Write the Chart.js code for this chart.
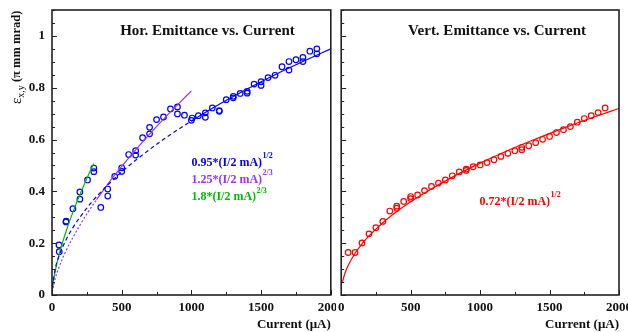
<!DOCTYPE html>
<html>
<head>
<meta charset="utf-8">
<script src="https://cdn.jsdelivr.net/npm/chart.js@4.4.1/dist/chart.umd.min.js"></script>
<style>
body{margin:0;background:#fff;}
#wrap{position:relative;width:628px;height:332px;}
canvas{position:absolute;top:0;}
#hor{left:0;}
#vert{left:336px;}
</style>
</head>
<body>
<div id="wrap">
<canvas id="hor" width="336" height="332"></canvas>
<canvas id="vert" width="292" height="332"></canvas>
</div>
<script>
// measured points (current in uA, emittance in pi mm mrad)
var horCurrent = [50, 52, 100, 102, 150, 200, 200, 255, 300, 300, 350, 400, 400, 450, 500, 500, 550, 600, 600, 650, 700, 700,
	750, 800, 850, 900, 900, 950, 1000, 1005, 1050, 1100, 1100, 1150, 1200, 1200, 1250, 1300, 1300, 1350, 1400, 1400,
	1450, 1500, 1500, 1550, 1600, 1650, 1700, 1700, 1750, 1800, 1800, 1850, 1900, 1900];
var horEmit = [0.193, 0.167, 0.282, 0.285, 0.333, 0.398, 0.370, 0.444, 0.490, 0.476, 0.338, 0.409, 0.382, 0.458, 0.491, 0.477, 0.542, 0.557, 0.540, 0.607, 0.622, 0.647,
	0.677, 0.687, 0.718, 0.726, 0.699, 0.694, 0.674, 0.683, 0.692, 0.686, 0.703, 0.722, 0.709, 0.712, 0.754, 0.761, 0.767, 0.778, 0.786, 0.779,
	0.814, 0.823, 0.809, 0.839, 0.848, 0.881, 0.901, 0.868, 0.908, 0.917, 0.901, 0.941, 0.950, 0.931];

var vertCurrent = [50, 100, 150, 200, 250, 300, 350, 400, 400, 450, 500, 500, 550, 600, 650, 700, 750, 800, 850, 900, 900, 950, 1000,
	1050, 1100, 1150, 1200, 1250, 1300, 1300, 1350, 1400, 1450, 1500, 1550, 1600, 1650, 1700, 1750, 1800, 1850, 1900];
var vertEmit = [0.164, 0.164, 0.201, 0.236, 0.260, 0.284, 0.324, 0.343, 0.335, 0.361, 0.380, 0.372, 0.386, 0.403, 0.419, 0.432, 0.444, 0.460, 0.475, 0.481, 0.486, 0.495, 0.502,
	0.511, 0.522, 0.535, 0.547, 0.557, 0.561, 0.570, 0.576, 0.588, 0.601, 0.612, 0.627, 0.638, 0.650, 0.667, 0.681, 0.692, 0.704, 0.722];

// fit curves
var blueDashX = [2, 25, 50, 100, 150, 200, 300, 400, 500, 600, 800, 1000];
var blueDashY = [0.030, 0.106, 0.150, 0.212, 0.260, 0.300, 0.368, 0.425, 0.475, 0.520, 0.601, 0.672];
var blueFitX = [1000, 1200, 1400, 1600, 1800, 2000];
var blueFitY = [0.672, 0.736, 0.795, 0.850, 0.901, 0.950];
var purpleDashX = [2, 25, 50, 100, 150, 200, 250, 320];
var purpleDashY = [0.012, 0.067, 0.107, 0.170, 0.222, 0.269, 0.313, 0.368];
var purpleFitX = [320, 400, 500, 600, 700, 800, 900, 1000];
var purpleFitY = [0.368, 0.428, 0.496, 0.560, 0.621, 0.679, 0.734, 0.788];
var greenFitX = [2, 10, 25, 50, 100, 150, 200, 250, 300];
var greenFitY = [0.018, 0.053, 0.097, 0.154, 0.244, 0.320, 0.388, 0.450, 0.508];
var redFitX = [10, 25, 50, 100, 150, 200, 300, 400, 500, 600, 800, 1000, 1200, 1400, 1600, 1800, 2000];
var redFitY = [0.051, 0.081, 0.114, 0.161, 0.197, 0.228, 0.279, 0.322, 0.360, 0.394, 0.455, 0.509, 0.558, 0.602, 0.644, 0.683, 0.720];

var xTickLabels = ['0', '500', '1000', '1500', '2000'];
var yTickLabels = ['0', '0.2', '0.4', '0.6', '0.8', '1'];

var SERIF = "'Liberation Serif', 'Times New Roman', serif";
var BLUE = '#0000ff', PURPLE = '#9933ff', GREEN = '#00bb00', RED = '#ff0000';

function pts(xs, ys){
	return xs.map(function(x, i){ return {x: x, y: ys[i]}; });
}

function curve(xs, ys, color, dash){
	return {data: pts(xs, ys), showLine: true, borderColor: color, borderWidth: 1.2, borderDash: dash || [],
		pointRadius: 0, cubicInterpolationMode: 'monotone', fill: false};
}

function marks(xs, ys, color){
	return {data: pts(xs, ys), showLine: false, pointStyle: 'circle', pointRadius: 2.8, pointBorderWidth: 1.2,
		borderColor: color, backgroundColor: 'rgba(0,0,0,0)'};
}

// inward ticks + box around the plot
var frame = {
	id: 'frame',
	afterDraw: function(chart){
		var ctx = chart.ctx, a = chart.chartArea;
		var xs = chart.scales.x, ys = chart.scales.y;
		ctx.save();
		ctx.strokeStyle = '#222';
		ctx.lineWidth = 1;
		xs.ticks.forEach(function(t){
			var px = Math.round(xs.getPixelForValue(t.value)) + 0.5;
			var len = t.label ? 5 : 3;
			ctx.beginPath(); ctx.moveTo(px, a.bottom); ctx.lineTo(px, a.bottom - len); ctx.stroke();
		});
		ys.ticks.forEach(function(t){
			var py = Math.round(ys.getPixelForValue(t.value)) + 0.5;
			var len = (Math.abs(t.value / 0.2 - Math.round(t.value / 0.2)) < 1e-6) ? 5 : 3;
			ctx.beginPath(); ctx.moveTo(a.left, py); ctx.lineTo(a.left + len, py); ctx.stroke();
		});
		ctx.lineWidth = 1.6;
		ctx.strokeRect(a.left, a.top, a.right - a.left, a.bottom - a.top);
		ctx.restore();
	}
};

// text with optional superscript, placed in data coords
function makeNotes(list){
	return {
		id: 'notes',
		afterDraw: function(chart){
			var ctx = chart.ctx, xs = chart.scales.x, ys = chart.scales.y;
			ctx.save();
			list.forEach(function(n){
				ctx.font = 'bold ' + n.size + 'px ' + SERIF;
				var w = ctx.measureText(n.text).width;
				var sw = 0;
				if(n.sup){
					ctx.font = 'bold ' + Math.round(n.size * 0.68) + 'px ' + SERIF;
					sw = ctx.measureText(n.sup).width;
				}
				var px = xs.getPixelForValue(n.x), py = ys.getPixelForValue(n.y);
				if(n.align == 'center') px = px - (w + sw) / 2;
				ctx.fillStyle = n.color;
				ctx.textBaseline = 'middle';
				ctx.textAlign = 'left';
				ctx.font = 'bold ' + n.size + 'px ' + SERIF;
				ctx.fillText(n.text, px, py);
				if(n.sup){
					ctx.font = 'bold ' + Math.round(n.size * 0.68) + 'px ' + SERIF;
					ctx.fillText(n.sup, px + w + 0.5, py - n.size * 0.55);
				}
			});
			ctx.restore();
		}
	};
}

// y title with subscript
var yTitle = {
	id: 'ytitle',
	afterDraw: function(chart){
		var ctx = chart.ctx;
		ctx.save();
		ctx.translate(17, 104);
		ctx.rotate(-Math.PI / 2);
		ctx.fillStyle = '#111';
		ctx.textBaseline = 'middle';
		ctx.textAlign = 'left';
		ctx.font = '15px ' + SERIF;
		ctx.fillText('\u03b5', 0, 0);
		var x = ctx.measureText('\u03b5').width;
		ctx.font = '10px ' + SERIF;
		ctx.fillText('x,y', x, 4);
		x += ctx.measureText('x,y').width;
		ctx.font = 'bold 12.5px ' + SERIF;
		ctx.fillText(' (\u03c0 mm mrad)', x, 0);
		ctx.restore();
	}
};

function makeChart(id, datasets, showY, yWidth, padRight, extra){
	var tickFont = {family: SERIF, size: 13, weight: 'bold'};
	return new Chart(document.getElementById(id), {
		type: 'scatter',
		data: {datasets: datasets},
		options: {
			responsive: false,
			animation: false,
			layout: {padding: {top: 10, right: padRight, left: 0, bottom: 0}},
			plugins: {legend: {display: false}, tooltip: {enabled: false}},
			scales: {
				x: {
					type: 'linear', min: 0, max: 2000,
					grid: {display: false, drawTicks: false}, border: {display: false},
					ticks: {stepSize: 250, autoSkip: false, maxRotation: 0, padding: 5, color: '#111', font: tickFont,
						callback: function(v){ var i = v / 500; return (v % 500 === 0) ? xTickLabels[i] : ''; }},
					title: {display: true, text: 'Current (\u03bcA)', align: 'end', color: '#111', padding: 0,
						font: {family: SERIF, size: 13, weight: 'bold'}},
					afterFit: function(s){ s.height = 37; s.paddingLeft = 0; s.paddingRight = 0; }
				},
				y: {
					type: 'linear', min: 0, max: 1.1,
					grid: {display: false, drawTicks: false}, border: {display: false},
					ticks: {display: showY, stepSize: 0.05, autoSkip: false, padding: 7, color: '#111', font: tickFont,
						callback: function(v){
							var k = v / 0.2;
							return Math.abs(k - Math.round(k)) < 1e-6 ? yTickLabels[Math.round(k)] : '';
						}},
					afterFit: function(s){ s.width = yWidth; s.paddingTop = 0; s.paddingBottom = 0; }
				}
			}
		},
		plugins: [frame].concat(extra)
	});
}

var horSets = [
	curve(blueDashX, blueDashY, BLUE, [4, 3]),
	curve(purpleDashX, purpleDashY, PURPLE, [2, 2]),
	curve(blueFitX, blueFitY, BLUE),
	curve(purpleFitX, purpleFitY, PURPLE),
	curve(greenFitX, greenFitY, GREEN),
	marks(horCurrent, horEmit, BLUE)
];

var vertSets = [
	curve(redFitX, redFitY, RED),
	marks(vertCurrent, vertEmit, RED)
];

makeChart('hor', horSets, true, 52, 5, [yTitle, makeNotes([
	{x: 1115, y: 1.017, text: 'Hor. Emittance vs. Current', size: 15, color: '#111', align: 'center'},
	{x: 1000, y: 0.51, text: '0.95*(I/2 mA)', sup: '1/2', size: 12, color: BLUE},
	{x: 1000, y: 0.445, text: '1.25*(I/2 mA)', sup: '2/3', size: 12, color: PURPLE},
	{x: 1000, y: 0.377, text: '1.8*(I/2 mA)', sup: '2/3', size: 12, color: GREEN}
])]);

makeChart('vert', vertSets, false, 5, 9, [makeNotes([
	{x: 1122, y: 1.017, text: 'Vert. Emittance vs. Current', size: 15, color: '#111', align: 'center'},
	{x: 995, y: 0.361, text: '0.72*(I/2 mA)', sup: '1/2', size: 12, color: RED}
])]);
</script>
</body>
</html>
